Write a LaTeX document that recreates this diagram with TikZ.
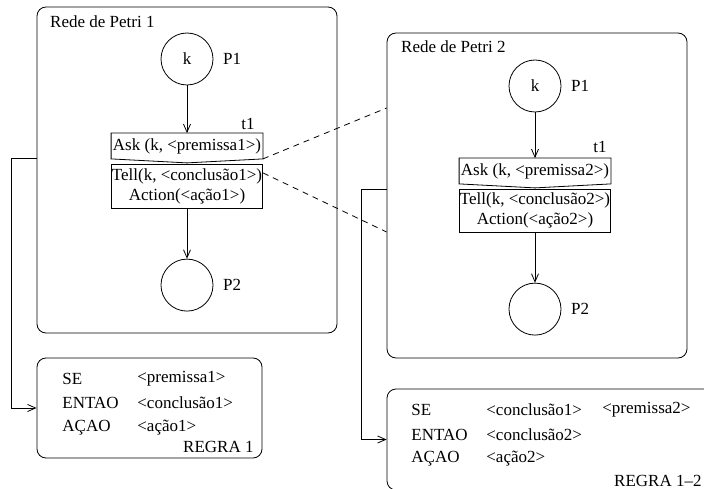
\documentclass[tikz,border=0pt]{standalone}
\usepackage{fontspec}
\setmainfont{Liberation Serif}
\usetikzlibrary{positioning,arrows.meta}
\newcommand{\ang}[1]{<#1>}

\begin{document}
\begin{tikzpicture}[x=1pt, y=-1pt, node distance=6pt, line width=0.8pt,
    font=\fontsize{17}{20}\selectfont,
    >={Straight Barb[length=8pt,width=7pt]},
    netframe/.style={draw, rounded corners=9pt, inner sep=0pt},
    place/.style={draw, circle, minimum size=52pt, inner sep=0pt},
    transbox/.style={minimum width=151pt, inner sep=0.5pt, align=center},
    ruletext/.style={anchor=west, inner sep=0pt}]
    \useasboundingbox (0,0) rectangle (704,489);
    \clip (0,0) rectangle (704,489);

    \node [netframe, minimum width=300pt, minimum height=326pt] (net1) at (187,170) {};
    \node [anchor=west] (title1) at (46.5,22) {Rede de Petri 1};
      \node [place] (p1a) at (187,59) {k};
      \node [right=of p1a] (lp1a) {P1};
      \node [transbox, minimum height=25pt] (ask1) at (187,146) {Ask (k, \ang{premissa1})};
      \node (t1a) at (248,124) {t1};
      \node [transbox, draw, below=5pt of ask1, minimum height=44pt] (tell1) {
        Tell(k, \ang{conclusão1}) \\
        Action(\ang{ação1})
      } ;
      \node [place, below=50pt of tell1] (p2a) {};
      \node [right=of p2a] (lp2a) {P2};

    \node [netframe, minimum width=300pt, minimum height=325pt] (net2) at (537,195.5) {};
    \node [anchor=west] (title2) at (397.5,47) {Rede de Petri 2};
      \node [place] (p1b) at (535,86) {k};
      \node [right=of p1b] (lp1b) {P1};
      \node [transbox, minimum height=25pt] (ask2) at (535,171) {Ask (k, \ang{premissa2})};
      \node (t1b) at (600,147) {t1};
      \node [transbox, draw, below=5pt of ask2, minimum height=43pt] (tell2) {
        Tell(k, \ang{conclusão2}) \\
        Action(\ang{ação2})
      } ;
      \node [place, below=50pt of tell2] (p2b) {};
      \node [right=of p2b] (lp2b) {P2};

    \node [netframe, minimum width=225pt, minimum height=100pt] (rule1) at (149.5,408) {};
      \node [ruletext] (se1) at (62,379) {SE};
      \node [ruletext] (entao1) at (62,403) {ENTAO};
      \node [ruletext] (acao1) at (62,428) {AÇAO};
      \node [ruletext] (prem1) at (137,379) {\ang{premissa1}};
      \node [ruletext] (conc1) at (137,403) {\ang{conclusão1}};
      \node [ruletext] (acaov1) at (137,428) {\ang{ação1}};
      \node [ruletext, anchor=east] (regra1) at (254,447) {REGRA 1};

    \node [netframe, minimum width=333pt, minimum height=101pt] (rule2) at (553.5,439.5) {};
      \node [ruletext] (se2) at (411,410) {SE};
      \node [ruletext] (entao2) at (411,435) {ENTAO};
      \node [ruletext] (acao2) at (411,459) {AÇAO};
      \node [ruletext] (conc1b) at (486,410) {\ang{conclusão1}};
      \node [ruletext] (prem2) at (602,410) {\ang{premissa2}};
      \node [ruletext] (conc2) at (486,435) {\ang{conclusão2}};
      \node [ruletext] (acaov2) at (486,459) {\ang{ação2}};
      \node [ruletext, anchor=east] (regra2) at (702,481) {REGRA 1--2};

    \draw (ask1.north west) -- (ask1.north east) -- (ask1.south east) -- ([yshift=-4pt]ask1.south) -- (ask1.south west) -- cycle ;
    \draw (ask2.north west) -- (ask2.north east) -- (ask2.south east) -- ([yshift=-4pt]ask2.south) -- (ask2.south west) -- cycle ;

    \path [->] (p1a) edge (ask1) ;
    \path [->] (tell1) edge (p2a) ;
    \path [->] (p1b) edge (ask2) ;
    \path [->] (tell2) edge (p2b) ;

    \draw [dash pattern=on 6pt off 5pt] (ask1.south east) -- ([yshift=87.5pt]net2.west) ;
    \draw [dash pattern=on 6pt off 5pt] ([yshift=-9pt]tell1.north east) -- ([yshift=-36.5pt]net2.west) ;

    \draw [->] ([yshift=12pt]net1.west) -- ++(-25,0) |- (rule1) ;
    \draw [->] ([yshift=6.5pt]net2.west) -- ++(-25,0) |- (rule2) ;
  \end{tikzpicture}
\end{document}
